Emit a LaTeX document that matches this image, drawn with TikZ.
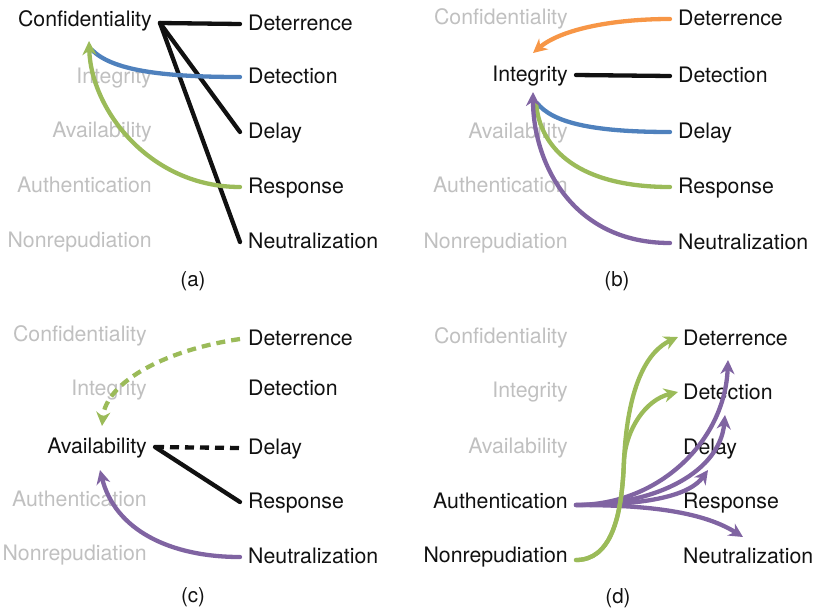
\documentclass[tikz,border=0pt]{standalone}
\usepackage{fontspec}
\setmainfont{TeX Gyre Heros}
\usetikzlibrary{arrows.meta}
\definecolor{dimgray}{HTML}{C0C0C0}
\definecolor{ablue}{HTML}{4F81BD}
\definecolor{agreen}{HTML}{9BBB59}
\definecolor{aorange}{HTML}{F79646}
\definecolor{apurple}{HTML}{8064A2}
\definecolor{ablack}{HTML}{111111}
\tikzset{
  lbl/.style={font=\fontsize{21.3}{24}\selectfont, inner xsep=8pt, inner ysep=0pt, text height=15pt, text depth=3pt},
  dim/.style={lbl, text=dimgray},
  act/.style={lbl, text=ablack},
  lft/.style={anchor=base east},
  rgt/.style={anchor=base west},
  conn/.style={line width=4.3pt, line cap=round},
  arr/.style={conn, -{Stealth[length=14pt,width=14pt,inset=4.5pt]}},
  dsh/.style={dash pattern=on 9pt off 6pt, line cap=butt},
  capt/.style={font=\fontsize{20.5}{24}\selectfont, anchor=base, text=ablack}
}
\begin{document}
\begin{tikzpicture}[x=1pt,y=-1pt]
\useasboundingbox (0,0) rectangle (813,611);
% ---------- panel a ----------
\node[act,lft] (aC)  at (160,26)  {Confidentiality};
\node[dim,lft] (aI)  at (160,83)  {Integrity};
\node[dim,lft] (aAv) at (160,137) {Availability};
\node[dim,lft] (aAu) at (160,192) {Authentication};
\node[dim,lft] (aN)  at (160,247) {Nonrepudiation};
\node[act,rgt] (aDt) at (240,30)  {Deterrence};
\node[act,rgt] (aDc) at (240,83)  {Detection};
\node[act,rgt] (aDl) at (240,138) {Delay};
\node[act,rgt] (aRs) at (240,193) {Response};
\node[act,rgt] (aNz) at (240,248) {Neutralization};
\node[capt] (capA) at (193,286) {(a)};
\coordinate (taB) at (92,50);
\coordinate (taG) at (89,41);
\draw[conn,ablack] ([yshift=-3pt]aC.east) -- (aDt.west);
\draw[conn,ablack] ([yshift=-3pt]aC.east) -- (aDl.west);
\draw[conn,ablack] ([yshift=-3pt]aC.east) -- (aNz.west);
\draw[conn,ablue] (aDc.west) .. controls (160,77) and (112,70) .. (taB);
\draw[arr,agreen] (aRs.west) .. controls (150,187) and (91,110) .. (taG);
% ---------- panel b ----------
\node[dim,lft] (bC)  at (576,24)  {Confidentiality};
\node[act,lft] (bI)  at (576,81)  {Integrity};
\node[dim,lft] (bAv) at (576,138) {Availability};
\node[dim,lft] (bAu) at (576,192) {Authentication};
\node[dim,lft] (bN)  at (576,248) {Nonrepudiation};
\node[act,rgt] (bDt) at (670,25)  {Deterrence};
\node[act,rgt] (bDc) at (670,82)  {Detection};
\node[act,rgt] (bDl) at (670,138) {Delay};
\node[act,rgt] (bRs) at (670,193) {Response};
\node[act,rgt] (bNz) at (670,249) {Neutralization};
\node[capt] (capB) at (617,286) {(b)};
\coordinate (tbO) at (533,53);
\coordinate (tbB) at (537,103);
\coordinate (tbG) at (536,103);
\coordinate (tbP) at (533,92);
\draw[arr,aorange] (bDt.west) .. controls (610,19) and (560,30) .. (tbO);
\draw[conn,ablack] (bI.east) -- (bDc.west);
\draw[conn,ablue] (bDl.west) .. controls (590,132) and (552,122) .. (tbB);
\draw[conn,agreen] (bRs.west) .. controls (580,187) and (540,150) .. (tbG);
\draw[arr,apurple] (bNz.west) .. controls (570,243) and (533,160) .. (tbP);
% ---------- panel c ----------
\node[dim,lft] (cC)  at (155,341) {Confidentiality};
\node[dim,lft] (cI)  at (155,395) {Integrity};
\node[act,lft] (cAv) at (155,453) {Availability};
\node[dim,lft] (cAu) at (155,506) {Authentication};
\node[dim,lft] (cN)  at (155,560) {Nonrepudiation};
\node[act,rgt] (cDt) at (240,345) {Deterrence};
\node[act,rgt] (cDc) at (240,395) {Detection};
\node[act,rgt] (cDl) at (240,454) {Delay};
\node[act,rgt] (cRs) at (240,508) {Response};
\node[act,rgt] (cNz) at (240,563) {Neutralization};
\node[capt] (capC) at (193,602) {(c)};
\coordinate (tcG) at (102,426);
\coordinate (tcP) at (100,470);
\draw[arr,agreen,dsh] (cDt.west) .. controls (165,350) and (106,382) .. (tcG);
\draw[conn,ablack,dsh] (cAv.east) -- (cDl.west);
\draw[conn,ablack] (cAv.east) -- (cRs.west);
\draw[arr,apurple] (cNz.west) .. controls (170,557) and (115,530) .. (tcP);
% ---------- panel d ----------
\node[dim,lft] (dC)  at (576,343) {Confidentiality};
\node[dim,lft] (dI)  at (576,397) {Integrity};
\node[dim,lft] (dAv) at (576,453) {Availability};
\node[act,lft] (dAu) at (576,508) {Authentication};
\node[act,lft] (dN)  at (576,562) {Nonrepudiation};
\node[act,rgt] (dDt) at (675,345) {Deterrence};
\node[act,rgt] (dDc) at (675,399) {Detection};
\node[act,rgt] (dDl) at (675,454) {Delay};
\node[act,rgt] (dRs) at (675,508) {Response};
\node[act,rgt] (dNz) at (675,563) {Neutralization};
\node[capt] (capD) at (618,603) {(d)};
\coordinate (tdG1) at (678,337);
\coordinate (tdG2) at (678,392);
\coordinate (tdP1) at (728,360);
\coordinate (tdP2) at (725,415);
\coordinate (tdP3) at (708,470);
\coordinate (tdP4) at (743,537);
\draw[arr,apurple] ([yshift=-3pt]dAu.east) .. controls (660,505) and (725,440) .. (tdP1);
\draw[arr,apurple] ([yshift=-3pt]dAu.east) .. controls (660,505) and (720,470) .. (tdP2);
\draw[arr,apurple] ([yshift=-3pt]dAu.east) .. controls (650,505) and (690,495) .. (tdP3);
\draw[arr,apurple] ([yshift=-3pt]dAu.east) .. controls (640,505) and (700,510) .. (tdP4);
\draw[arr,agreen] ([yshift=-4pt]dN.east) .. controls (610,560) and (622,520) .. (624,460)
   .. controls (628,380) and (650,350) .. (tdG1);
\draw[arr,agreen] ([yshift=-4pt]dN.east) .. controls (610,560) and (622,520) .. (624,460)
   .. controls (626,430) and (645,400) .. (tdG2);
\end{tikzpicture}
\end{document}
